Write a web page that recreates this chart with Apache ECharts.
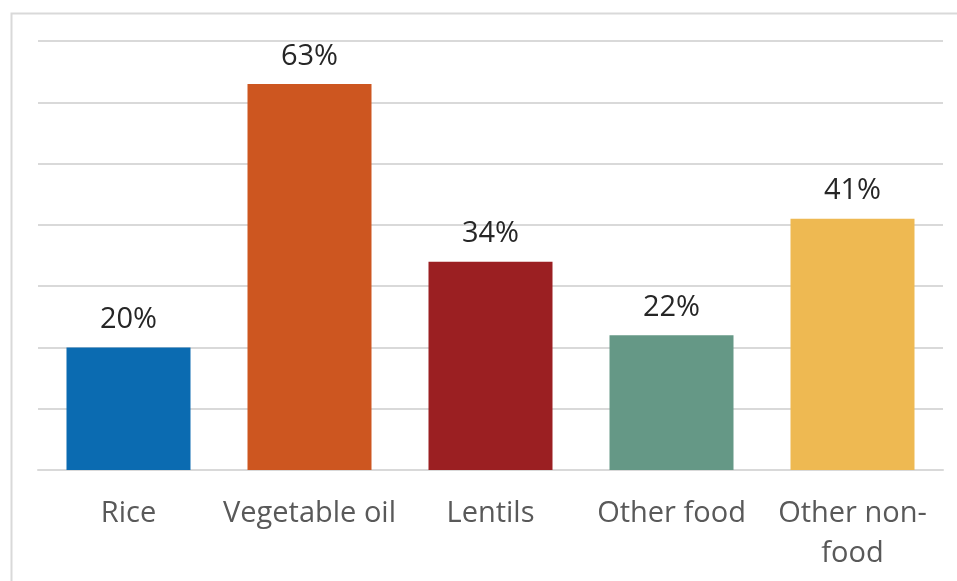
<!DOCTYPE html>
<html>
<head>
<meta charset="utf-8">
<style>
  html, body { margin: 0; padding: 0; background: #ffffff; }
  #chart { width: 957px; height: 581px; }
</style>
<script src="https://cdn.jsdelivr.net/npm/echarts@6/dist/echarts.min.js"></script>
</head>
<body>
<div id="chart"></div>
<script>
// Share of spending by item (%)
const categories = ['Rice', 'Vegetable oil', 'Lentils', 'Other food', 'Other non-\nfood'];
const shares = [20, 63, 34, 22, 41];
const barColors = ['#0b6bb1', '#cd5620', '#9b1f22', '#659886', '#eeb952'];
const yTicks = { min: 0, max: 70, interval: 10 };

const chart = echarts.init(document.getElementById('chart'), null, { renderer: 'canvas' });

chart.setOption({
  animation: false,
  backgroundColor: '#ffffff',
  graphic: [{
    type: 'rect',
    shape: { x: 11.5, y: 13.5, width: 960, height: 600 },
    style: { fill: 'none', stroke: '#d9d9d9', lineWidth: 2 },
    silent: true
  }],
  grid: { left: 38, right: 14, top: 41, bottom: 111, containLabel: false },
  xAxis: {
    type: 'category',
    data: categories,
    axisTick: { show: false },
    axisLine: { show: true, lineStyle: { color: '#d9d9d9', width: 2 } },
    axisLabel: {
      color: '#595959',
      fontFamily: 'Open Sans',
      fontSize: 29,
      lineHeight: 40,
      margin: 24,
      interval: 0
    }
  },
  yAxis: {
    type: 'value',
    min: yTicks.min,
    max: yTicks.max,
    interval: yTicks.interval,
    axisLabel: { show: false },
    axisLine: { show: false },
    axisTick: { show: false },
    splitLine: { lineStyle: { color: '#d9d9d9', width: 2 } }
  },
  series: [{
    type: 'bar',
    data: shares.map((v, i) => ({ value: v, itemStyle: { color: barColors[i] } })),
    barWidth: 124,
    label: {
      show: true,
      position: 'top',
      distance: 13,
      formatter: p => p.value + '%',
      color: '#262626',
      fontFamily: 'Open Sans',
      fontSize: 29
    }
  }]
});
</script>
</body>
</html>
